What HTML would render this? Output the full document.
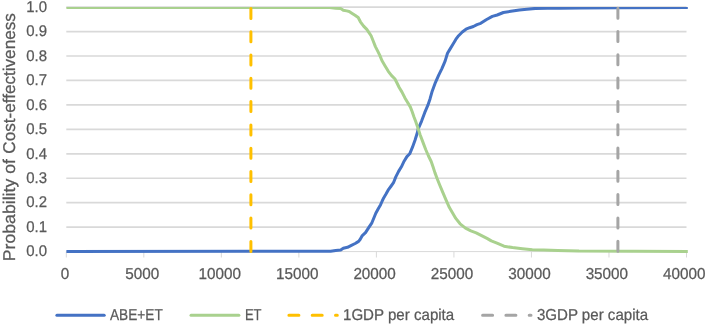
<!DOCTYPE html>
<html><head><meta charset="utf-8"><style>
html,body{margin:0;padding:0;background:#fff;}
svg{display:block;will-change:transform;}
text{font-family:"Liberation Sans",sans-serif;text-rendering:geometricPrecision;stroke:#595959;stroke-width:0.25px;}
</style></head><body>
<svg width="707" height="325" viewBox="0 0 707 325">
<rect width="707" height="325" fill="#fff"/>
<g stroke="#D9D9D9" stroke-width="1.7" fill="none"><line x1="66.3" x2="686.5" y1="227.15" y2="227.15"/><line x1="66.3" x2="686.5" y1="202.70" y2="202.70"/><line x1="66.3" x2="686.5" y1="178.25" y2="178.25"/><line x1="66.3" x2="686.5" y1="153.80" y2="153.80"/><line x1="66.3" x2="686.5" y1="129.35" y2="129.35"/><line x1="66.3" x2="686.5" y1="104.90" y2="104.90"/><line x1="66.3" x2="686.5" y1="80.45" y2="80.45"/><line x1="66.3" x2="686.5" y1="56.00" y2="56.00"/><line x1="66.3" x2="686.5" y1="31.55" y2="31.55"/><line x1="66.3" x2="686.5" y1="7.10" y2="7.10"/></g>
<line x1="66.3" x2="686.5" y1="251.60" y2="251.60" stroke="#D9D9D9" stroke-width="1"/>
<g stroke="#D9D9D9" stroke-width="1"><line x1="66.30" x2="66.30" y1="251.60" y2="257.5"/><line x1="143.82" x2="143.82" y1="251.60" y2="257.5"/><line x1="221.35" x2="221.35" y1="251.60" y2="257.5"/><line x1="298.88" x2="298.88" y1="251.60" y2="257.5"/><line x1="376.40" x2="376.40" y1="251.60" y2="257.5"/><line x1="453.93" x2="453.93" y1="251.60" y2="257.5"/><line x1="531.45" x2="531.45" y1="251.60" y2="257.5"/><line x1="608.98" x2="608.98" y1="251.60" y2="257.5"/><line x1="686.50" x2="686.50" y1="251.60" y2="257.5"/></g>
<g fill="#595959" font-size="15.5" text-anchor="end"><text x="47" y="256.30" textLength="20.8" lengthAdjust="spacingAndGlyphs">0.0</text><text x="47" y="231.85" textLength="20.8" lengthAdjust="spacingAndGlyphs">0.1</text><text x="47" y="207.40" textLength="20.8" lengthAdjust="spacingAndGlyphs">0.2</text><text x="47" y="182.95" textLength="20.8" lengthAdjust="spacingAndGlyphs">0.3</text><text x="47" y="158.50" textLength="20.8" lengthAdjust="spacingAndGlyphs">0.4</text><text x="47" y="134.05" textLength="20.8" lengthAdjust="spacingAndGlyphs">0.5</text><text x="47" y="109.60" textLength="20.8" lengthAdjust="spacingAndGlyphs">0.6</text><text x="47" y="85.15" textLength="20.8" lengthAdjust="spacingAndGlyphs">0.7</text><text x="47" y="60.70" textLength="20.8" lengthAdjust="spacingAndGlyphs">0.8</text><text x="47" y="36.25" textLength="20.8" lengthAdjust="spacingAndGlyphs">0.9</text><text x="47" y="11.80" textLength="20.8" lengthAdjust="spacingAndGlyphs">1.0</text></g>
<g fill="#595959" font-size="15.8" text-anchor="middle"><text x="64.95" y="278.8" textLength="8.50" lengthAdjust="spacingAndGlyphs">0</text><text x="142.37" y="278.8" textLength="34.00" lengthAdjust="spacingAndGlyphs">5000</text><text x="219.79" y="278.8" textLength="42.50" lengthAdjust="spacingAndGlyphs">10000</text><text x="297.21" y="278.8" textLength="42.50" lengthAdjust="spacingAndGlyphs">15000</text><text x="374.63" y="278.8" textLength="42.50" lengthAdjust="spacingAndGlyphs">20000</text><text x="452.05" y="278.8" textLength="42.50" lengthAdjust="spacingAndGlyphs">25000</text><text x="529.47" y="278.8" textLength="42.50" lengthAdjust="spacingAndGlyphs">30000</text><text x="606.89" y="278.8" textLength="42.50" lengthAdjust="spacingAndGlyphs">35000</text><text x="684.31" y="278.8" textLength="42.50" lengthAdjust="spacingAndGlyphs">40000</text></g>
<g fill="#595959" font-size="17"><text transform="translate(14.6,261.3) rotate(-90)" textLength="102.3" lengthAdjust="spacingAndGlyphs">Probability of</text>
<text transform="translate(14.6,153.7) rotate(-90)" textLength="140.5" lengthAdjust="spacingAndGlyphs">Cost-effectiveness</text></g>
<defs><clipPath id="pa"><rect x="0" y="6.9" width="707" height="300"/></clipPath></defs>
<g clip-path="url(#pa)">
<polyline points="66.4,251.4 330.6,251.3 335.7,250.6 340.7,250.0 343.3,248.3 347.5,247.3 350.9,245.6 355.2,243.5 358.6,241.4 360.1,239.5 362.3,235.6 365.5,232.6 368.7,227.6 371.9,222.8 375.8,213.3 378.4,208.5 380.6,204.7 382.2,201.0 383.8,197.7 386.0,194.0 388.1,190.2 390.8,186.5 393.5,182.7 395.8,176.9 398.6,171.4 401.4,166.8 404.1,161.2 406.9,156.6 409.7,153.8 412.4,147.4 415.0,140.3 417.4,132.5 418.2,128.8 421.5,121.3 424.7,112.7 427.9,105.2 430.1,98.7 432.2,91.2 435.4,82.6 438.7,75.1 441.9,68.6 445.1,61.1 447.5,53.2 450.3,48.6 453.1,44.0 455.8,39.4 458.6,35.7 462.3,32.0 466.0,29.2 469.7,27.7 473.4,26.5 477.0,24.6 480.7,23.3 486.2,19.7 492.3,16.4 497.2,15.0 503.4,12.5 510.8,11.3 519.4,10.0 526.8,9.2 535.4,8.4 547.7,8.2 560.0,8.2 580.0,8.1 620.0,7.8 687.8,7.6" fill="none" stroke="#4472C4" stroke-width="3" stroke-linejoin="round" stroke-linecap="butt"/>
<polyline points="66.4,7.4 329.7,7.6 335.7,8.2 340.7,8.5 343.3,10.2 346.7,10.9 349.2,11.5 351.8,13.2 355.0,15.2 358.2,17.5 360.4,21.8 363.6,26.1 366.8,29.4 369.0,32.6 371.1,35.8 373.3,41.2 375.4,46.6 377.6,50.9 379.7,55.2 381.9,60.5 385.1,65.9 388.3,71.3 391.6,75.6 394.8,78.8 396.5,82.0 399.2,87.5 402.0,92.1 404.8,97.7 407.5,102.3 410.3,106.9 412.1,111.5 414.0,117.0 415.8,121.7 417.7,127.2 420.1,134.8 422.9,142.1 425.7,149.5 428.5,156.0 431.2,161.5 433.1,167.0 434.9,172.6 437.3,179.0 439.7,185.0 442.9,192.6 446.1,200.1 449.4,207.6 452.6,213.0 455.8,218.4 460.1,223.8 465.5,228.1 470.9,230.9 476.2,232.8 481.6,235.6 487.0,238.4 491.3,240.9 497.0,243.1 504.0,246.2 512.5,247.6 522.4,248.7 532.3,249.7 543.6,250.1 557.8,250.4 579.0,251.1 687.8,251.5" fill="none" stroke="#A9D18E" stroke-width="3" stroke-linejoin="round" stroke-linecap="butt"/>
</g>
<line x1="250.9" x2="250.9" y1="8.4" y2="251.6" stroke="#FFC000" stroke-width="3" stroke-dasharray="10 13.3" stroke-linecap="round"/>
<line x1="617.9" x2="617.9" y1="8.2" y2="251.6" stroke="#A5A5A5" stroke-width="3" stroke-dasharray="10 13.3" stroke-linecap="round"/>
<g stroke-width="3" stroke-linecap="round">
<line x1="56.9" x2="104.2" y1="315.3" y2="315.3" stroke="#4472C4"/>
<line x1="191" x2="238.9" y1="315.3" y2="315.3" stroke="#A9D18E"/>
<line x1="288.9" x2="337.3" y1="315.3" y2="315.3" stroke="#FFC000" stroke-dasharray="10 13.3"/>
<line x1="482.6" x2="531" y1="315.3" y2="315.3" stroke="#A5A5A5" stroke-dasharray="10 13.3"/>
</g>
<g fill="#595959" font-size="15.8">
<text x="110.0" y="320.2" textLength="52.8" lengthAdjust="spacingAndGlyphs">ABE+ET</text>
<text x="244.9" y="320.2" textLength="16.6" lengthAdjust="spacingAndGlyphs">ET</text>
<text x="343.0" y="320.2" textLength="111.2" lengthAdjust="spacingAndGlyphs">1GDP per capita</text>
<text x="536.9" y="320.2" textLength="111.2" lengthAdjust="spacingAndGlyphs">3GDP per capita</text>
</g>
</svg>
</body></html>
